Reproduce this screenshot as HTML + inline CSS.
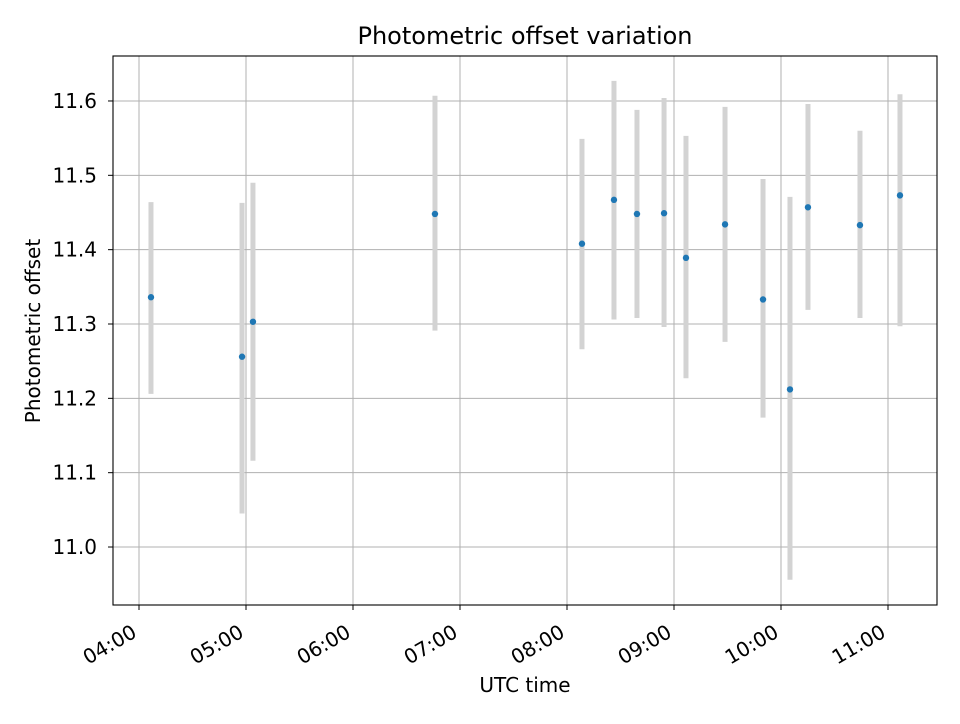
<!DOCTYPE html>
<html><head><meta charset="utf-8"><style>
body{margin:0;background:#fff;font-family:"DejaVu Sans","Liberation Sans",sans-serif}
</style></head><body>
<svg id="chart" width="960" height="720" xmlns="http://www.w3.org/2000/svg" font-family="DejaVu Sans, Liberation Sans, sans-serif">
<rect width="960" height="720" fill="#fff"/>
<g id="grid"></g>
<g id="errs"></g>
<g id="pts"></g>
<rect x="113" y="56" width="824" height="549" fill="none" stroke="#000" stroke-width="1.1"/>
<g id="ticks" font-size="20"></g>
<text x="525" y="44" text-anchor="middle" font-size="24">Photometric offset variation</text>
<text x="525" y="692" text-anchor="middle" font-size="20">UTC time</text>
<text transform="translate(40,331) rotate(-90)" text-anchor="middle" font-size="20">Photometric offset</text>
</svg>
<script>
const times=[4.112,4.963,5.065,6.766,8.140,8.439,8.654,8.907,9.112,9.477,9.832,10.084,10.252,10.738,11.112];
const values=[11.336,11.256,11.303,11.448,11.408,11.467,11.448,11.449,11.389,11.434,11.333,11.212,11.457,11.433,11.473];
const upper=[11.464,11.463,11.490,11.607,11.549,11.627,11.588,11.604,11.553,11.592,11.495,11.471,11.596,11.560,11.609];
const lower=[11.206,11.045,11.116,11.291,11.266,11.306,11.308,11.296,11.227,11.276,11.174,10.956,11.319,11.308,11.297];
const xTicks=[4,5,6,7,8,9,10,11];
const xTickLabels=["04:00","05:00","06:00","07:00","08:00","09:00","10:00","11:00"];
const yTicks=[11.0,11.1,11.2,11.3,11.4,11.5,11.6];
const NS="http://www.w3.org/2000/svg";
const X0=113,X1=937,Y0=605,Y1=56,xmin=3.757,xmax=11.458,ymin=10.922,ymax=11.6605;
const sx=v=>X0+(v-xmin)/(xmax-xmin)*(X1-X0);
const sy=v=>Y0-(v-ymin)/(ymax-ymin)*(Y0-Y1);
function mk(t,a,p){const e=document.createElementNS(NS,t);for(const k in a)e.setAttribute(k,a[k]);p.appendChild(e);return e;}
const grid=document.getElementById('grid'),ticks=document.getElementById('ticks'),errs=document.getElementById('errs'),pts=document.getElementById('pts');
xTicks.forEach((t,i)=>{const x=sx(t);
 const g=mk('line',{x1:x,x2:x,y1:Y1,y2:Y0,stroke:'#b0b0b0','stroke-width':1},grid);
 
 
 const tk=mk('line',{x1:x,x2:x,y1:Y0,y2:Y0+5,stroke:'#000'},ticks);
 
 
 const ax=x-1,ay=Y0+31;
 const l=mk('text',{x:ax,y:ay,'text-anchor':'end',transform:`rotate(-30 ${ax} ${ay})`},ticks);
 l.textContent=xTickLabels[i];
 
 
});
yTicks.forEach(t=>{const y=sy(t);
 const g=mk('line',{x1:X0,x2:X1,y1:y,y2:y,stroke:'#b0b0b0','stroke-width':1},grid);
 
 
 const tk=mk('line',{x1:X0-5,x2:X0,y1:y,y2:y,stroke:'#000'},ticks);
 
 
 const l=mk('text',{x:X0-16,y:y+7,'text-anchor':'end'},ticks);
 l.textContent=t.toFixed(1);
 
 
});
times.forEach((t,i)=>{const x=sx(t);
 const e=mk('line',{x1:x,x2:x,y1:sy(upper[i]),y2:sy(lower[i]),stroke:'#d3d3d3','stroke-width':5},errs);
 
 
 const c=mk('circle',{cx:x,cy:sy(values[i]),r:3.2,fill:'#1f77b4'},pts);
 
 
});
</script>
</body></html>
